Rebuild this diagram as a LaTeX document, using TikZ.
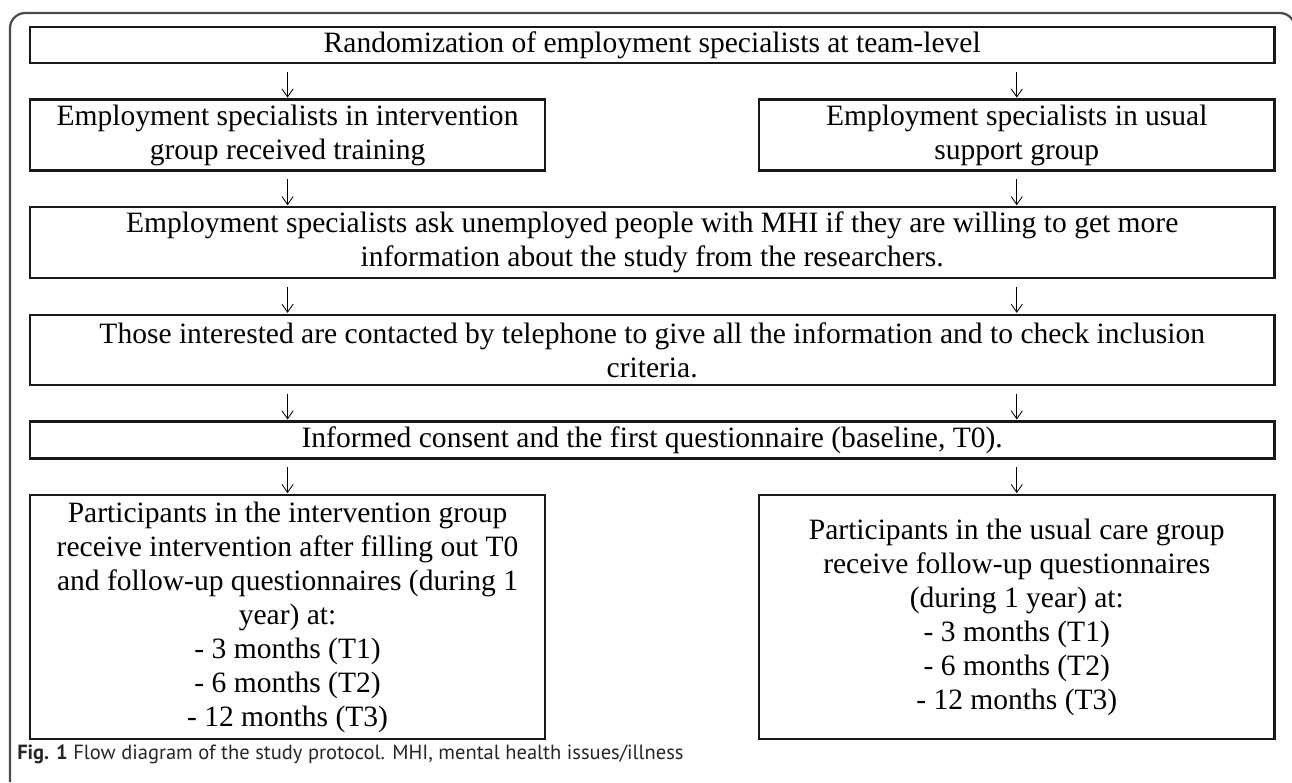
\documentclass[tikz,border=0pt]{standalone}
\usepackage{fontspec}
\setmainfont{Liberation Serif}
\newfontfamily\capfont{PT Sans}
\usetikzlibrary{positioning, arrows.meta}

\begin{document}
\begin{tikzpicture}[x=0.025cm, y=-0.025cm]
  \tikzset{
    stepbox/.style={
      rectangle,
      draw=black!90,
      line width=1.7pt,
      text centered,
      align=center,
      inner sep=0pt,
      outer sep=0pt,
      font=\fontsize{21}{24.2}\selectfont, % serif text in the boxes
      minimum height=0.9cm,
    },
    wide/.style={minimum width=31.1cm},
    half/.style={minimum width=12.875cm},
    flow/.style={
      -{Straight Barb[length=0.2cm,width=0.28cm]},
      line width=0.6pt,
      shorten <=0.22cm,
      shorten >=0.05cm,
    },
    frame/.style={draw=black!70, line width=1.6pt, rounded corners=0.38cm},
    node distance=0.915cm,
  }

  \useasboundingbox (0,0) rectangle (1292,782);
  \draw[frame] (10,782) -- (10,13) -- (1295,13) -- (1295,782);

  \node[stepbox, wide, anchor=north west] (rand) at (30,27)
    {Randomization of employment specialists at team-level};

  \node[stepbox, half, minimum height=1.775cm, below=of rand.south west, anchor=north west] (trainL)
    {Employment specialists in intervention\\group received training};
  \node[stepbox, half, minimum height=1.775cm, below=of rand.south east, anchor=north east] (trainR)
    {Employment specialists in usual\\support group};

  \node[stepbox, wide, minimum height=1.775cm, below=of trainL.south west, anchor=north west] (ask)
    {Employment specialists ask unemployed people with MHI if they are willing to get more\\
     information about the study from the researchers.};
  \node[stepbox, wide, minimum height=1.75cm, below=of ask] (contact)
    {Those interested are contacted by telephone to give all the information and to check inclusion\\
     criteria.};
  \node[stepbox, wide, minimum height=0.925cm, below=of contact] (consent)
    {Informed consent and the first questionnaire (baseline, T0).};

  \node[stepbox, half, minimum height=6.1cm, below=of consent.south west, anchor=north west] (partL)
    {Participants in the intervention group\\receive intervention after filling out T0\\
     and follow-up questionnaires (during 1\\year) at:\\- 3 months (T1)\\- 6 months (T2)\\- 12 months (T3)};
  \node[stepbox, half, minimum height=6.1cm, below=of consent.south east, anchor=north east] (partR)
    {Participants in the usual care group\\receive follow-up questionnaires\\(during 1 year) at:\\
     - 3 months (T1)\\- 6 months (T2)\\- 12 months (T3)};

  % arrows between the rows
  \foreach \side in {trainL, trainR} {
    \draw[flow] (rand.south -| \side.north) -- (\side.north);
    \draw[flow] (\side.south) -- (\side.south |- ask.north);
    \draw[flow] (ask.south -| \side.north) -- (contact.north -| \side.north);
    \draw[flow] (contact.south -| \side.north) -- (consent.north -| \side.north);
  }
  \draw[flow] (consent.south -| partL.north) -- (partL.north);
  \draw[flow] (consent.south -| partR.north) -- (partR.north);

  \node[anchor=west, inner sep=0pt, text=black!85, font=\capfont\fontsize{14.6}{16}\selectfont] (caption) at (17,754)
    {\textbf{Fig. 1} Flow diagram of the study protocol. MHI, mental health issues/illness};
\end{tikzpicture}
\end{document}
